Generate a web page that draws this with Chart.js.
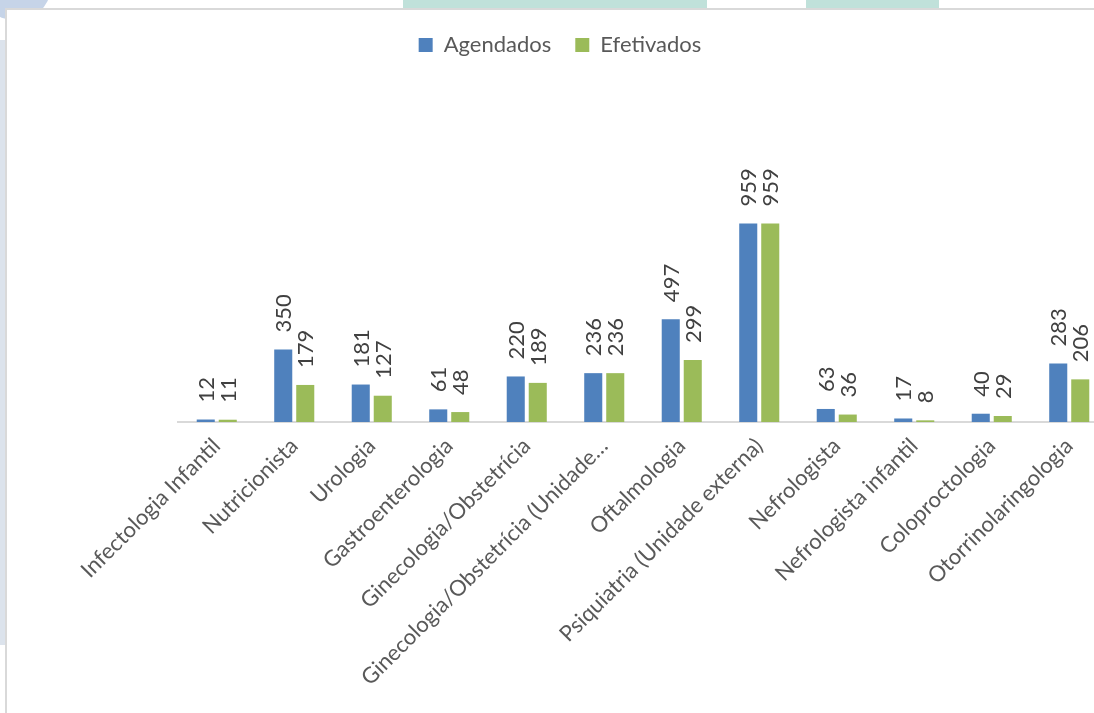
<!DOCTYPE html>
<html>
<head>
<meta charset="utf-8">
<script src="https://cdn.jsdelivr.net/npm/chart.js@4"></script>
<style>
  html, body { margin: 0; padding: 0; background: #fff; width: 1094px; height: 713px; overflow: hidden; position: relative; }
  .deco { position: absolute; }
  #wrap { position: absolute; left: 0; top: 0; width: 1120px; height: 713px; }
</style>
</head>
<body>
<!-- faint page background behind the chart box -->
<div class="deco" style="left:-20px;top:-40px;width:70px;height:60px;border-radius:50%;background:#c6d4e8;"></div>
<div class="deco" style="left:403px;top:0;width:304px;height:10px;background:#c0e1da;"></div>
<div class="deco" style="left:806px;top:0;width:133px;height:10px;background:#c0e1da;"></div>
<div class="deco" style="left:0;top:40px;width:6px;height:605px;background:#dce3ec;"></div>
<!-- chart box -->
<div class="deco" style="left:5px;top:8px;width:1100px;height:720px;background:#fff;border-top:2px solid #d9d9d9;border-left:2px solid #d9d9d9;"></div>
<div id="wrap"><canvas id="grafico"></canvas></div>
<script>
var especialidades = [
  'Infectologia Infantil', 'Nutricionista', 'Urologia', 'Gastroenterologia',
  'Ginecologia/Obstetrícia', 'Ginecologia/Obstetrícia (Unidade…', 'Oftalmologia',
  'Psiquiatria (Unidade externa)', 'Nefrologista', 'Nefrologista infantil',
  'Coloproctologia', 'Otorrinolaringologia'
];
var agendados = [12, 350, 181, 61, 220, 236, 497, 959, 63, 17, 40, 283];
var efetivados = [11, 179, 127, 48, 189, 236, 299, 959, 36, 8, 29, 206];

// numeros girados em cima de cada barra
var rotulosBarras = {
  id: 'rotulosBarras',
  afterDatasetsDraw: function(chart) {
    var ctx = chart.ctx;
    ctx.save();
    ctx.font = '22px Lato';
    ctx.fillStyle = '#404040';
    ctx.textAlign = 'left';
    ctx.textBaseline = 'middle';
    chart.data.datasets.forEach(function(ds, i) {
      chart.getDatasetMeta(i).data.forEach(function(bar, j) {
        ctx.save();
        ctx.translate(bar.x + 1, bar.y - 17);
        ctx.rotate(-Math.PI / 2);
        ctx.fillText(ds.data[j], 0, 0);
        ctx.restore();
      });
    });
    ctx.restore();
  }
};

var chartdata = {
  labels: especialidades,
  datasets: [
    {
      label: 'Agendados',
      backgroundColor: '#4f81bd',
      data: agendados,
      categoryPercentage: 0.568,
      barPercentage: 0.82
    },
    {
      label: 'Efetivados',
      backgroundColor: '#9bbb59',
      data: efetivados,
      categoryPercentage: 0.568,
      barPercentage: 0.82
    }
  ]
};

var ctx = document.getElementById('grafico');
var barGraph = new Chart(ctx, {
  type: 'bar',
  data: chartdata,
  plugins: [rotulosBarras],
  options: {
    responsive: true,
    maintainAspectRatio: false,
    animation: false,
    layout: { padding: { left: 0, right: 0, top: 10, bottom: 0 } },
    plugins: {
      tooltip: { enabled: false },
      legend: {
        position: 'top',
        labels: {
          boxWidth: 14,
          boxHeight: 14,
          padding: 24,
          color: '#595959',
          font: { family: 'Lato', size: 22 }
        }
      }
    },
    scales: {
      x: {
        grid: { display: false },
        border: { display: true, color: '#d9d9d9', width: 2 },
        ticks: {
          autoSkip: false,
          minRotation: 45,
          maxRotation: 45,
          padding: 3,
          color: '#595959',
          font: { family: 'Lato', size: 22 }
        },
        afterFit: function(scale) {
          scale.paddingLeft = 178;
          scale.paddingRight = 12;
          scale.height = 291;
        }
      },
      y: {
        display: false,
        min: 0,
        max: 1720
      }
    }
  }
});
</script>
</body>
</html>
